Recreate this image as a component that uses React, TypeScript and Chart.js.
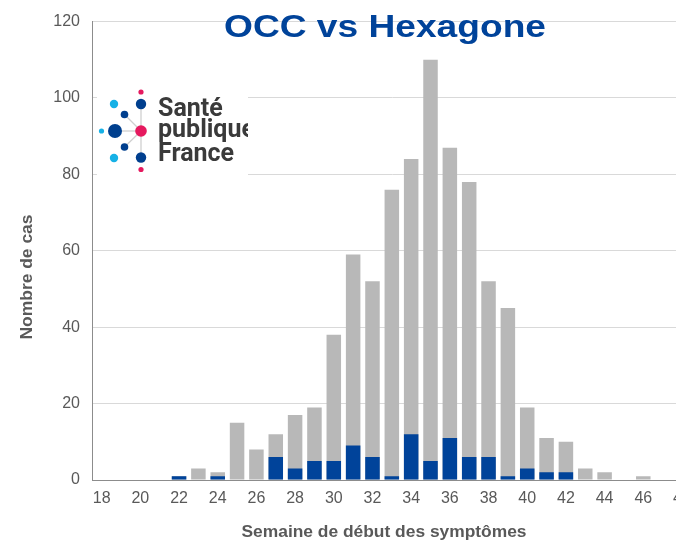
import React, { useEffect, useRef } from "react";
import { Chart, registerables } from "chart.js";

Chart.register(...registerables);

const weeks: string[] = [
  "18", "19", "20", "21", "22", "23", "24", "25", "26", "27", "28", "29", "30", "31", "32", "33",
  "34", "35", "36", "37", "38", "39", "40", "41", "42", "43", "44", "45", "46", "47", "48",
];

const hexagoneCases: number[] = [
  0, 0, 0, 0, 1, 3, 2, 15, 8, 12, 17, 19, 38, 59, 52, 76,
  84, 110, 87, 78, 52, 45, 19, 11, 10, 3, 2, 0, 1, 0, 0,
];

const occCases: number[] = [
  0, 0, 0, 0, 1, 0, 1, 0, 0, 6, 3, 5, 5, 9, 6, 1,
  12, 5, 11, 6, 6, 1, 3, 2, 2, 0, 0, 0, 0, 0, 0,
];

const yTicks: number[] = [0, 20, 40, 60, 80, 100, 120];

const chartTitle = "OCC vs Hexagone";
const xTitle = "Semaine de début des symptômes";
const yTitle = "Nombre de cas";
const logoLines: string[] = ["Santé", "publique", "France"];

const FONT = '"Liberation Sans", Arial, Helvetica, sans-serif';
const BLUE = "#00439a";
const GREY = "#b8b8b8";
const TEXT = "#595959";

function fitText(
  ctx: CanvasRenderingContext2D,
  text: string,
  x: number,
  y: number,
  font: string,
  targetWidth: number,
  color: string,
  rotate = 0
) {
  ctx.save();
  ctx.font = font;
  const w = ctx.measureText(text).width;
  const sx = targetWidth / w;
  ctx.translate(x, y);
  if (rotate) ctx.rotate(rotate);
  ctx.scale(sx, 1);
  ctx.fillStyle = color;
  ctx.textAlign = "center";
  ctx.textBaseline = "alphabetic";
  ctx.fillText(text, 0, 0);
  ctx.restore();
}

const overlayPlugin = {
  id: "overlay",
  afterDraw(chart: any) {
    const ctx: CanvasRenderingContext2D = chart.ctx;

    // Title
    fitText(ctx, chartTitle, 385, 37, `bold 31px ${FONT}`, 322, BLUE);

    // Axis titles
    fitText(ctx, xTitle, 384, 537, `bold 16px ${FONT}`, 285, TEXT);
    fitText(ctx, yTitle, 32, 277, `bold 16px ${FONT}`, 125, TEXT, -Math.PI / 2);

    // Logo
    ctx.save();
    ctx.fillStyle = "#ffffff";
    ctx.fillRect(97, 84, 151, 94);
    ctx.beginPath();
    ctx.rect(97, 84, 151, 94);
    ctx.clip();

    const cx = 141;
    const cy = 131;
    const dots: [number, number, number, string][] = [
      [141, 92, 2.6, "#e5195e"],
      [114, 104, 4.2, "#16b1e6"],
      [141, 104, 5.2, "#003f8e"],
      [124.5, 114.5, 3.8, "#003f8e"],
      [101.5, 131, 2.6, "#16b1e6"],
      [115, 131, 7, "#003f8e"],
      [124.5, 147, 3.8, "#003f8e"],
      [114, 158, 4.2, "#16b1e6"],
      [141, 157.5, 5.2, "#003f8e"],
      [141, 169.5, 2.6, "#e5195e"],
    ];
    ctx.strokeStyle = "#cfcfcf";
    ctx.lineWidth = 1.3;
    const linked = [2, 3, 5, 6, 8];
    linked.forEach((i) => {
      ctx.beginPath();
      ctx.moveTo(cx, cy);
      ctx.lineTo(dots[i][0], dots[i][1]);
      ctx.stroke();
    });
    dots.forEach(([x, y, r, c]) => {
      ctx.beginPath();
      ctx.arc(x, y, r, 0, Math.PI * 2);
      ctx.fillStyle = c;
      ctx.fill();
    });
    ctx.beginPath();
    ctx.arc(cx, cy, 5.8, 0, Math.PI * 2);
    ctx.fillStyle = "#e5195e";
    ctx.fill();

    ctx.fillStyle = "#3a3a3a";
    ctx.font = `bold 25px Roboto, "DejaVu Sans", sans-serif`;
    ctx.textAlign = "left";
    ctx.textBaseline = "alphabetic";
    ctx.fillText(logoLines[0], 158, 116);
    ctx.fillText(logoLines[1], 158, 137);
    ctx.fillText(logoLines[2], 158, 161);
    ctx.restore();
  },
};

export default function App() {
  const canvasRef = useRef<HTMLCanvasElement | null>(null);

  useEffect(() => {
    const canvas = canvasRef.current;
    if (!canvas) return;
    const chart = new Chart(canvas, {
      type: "bar",
      data: {
        labels: weeks,
        datasets: [
          {
            label: "OCC",
            data: occCases,
            backgroundColor: BLUE,
            grouped: false,
            order: 0,
            barPercentage: 0.75,
            categoryPercentage: 1,
          },
          {
            label: "Hexagone",
            data: hexagoneCases,
            backgroundColor: GREY,
            grouped: false,
            order: 1,
            barPercentage: 0.75,
            categoryPercentage: 1,
          },
        ],
      },
      options: {
        animation: false,
        responsive: false,
        maintainAspectRatio: false,
        devicePixelRatio: 1,
        layout: { padding: { top: 16, right: 8, left: 0, bottom: 0 } },
        plugins: {
          legend: { display: false },
          tooltip: { enabled: false },
          title: { display: false },
        },
        scales: {
          x: {
            grid: { display: false, drawTicks: false },
            border: { display: true, color: "#8c8c8c", width: 1 },
            ticks: {
              autoSkip: false,
              maxRotation: 0,
              minRotation: 0,
              padding: 9,
              color: TEXT,
              font: { family: FONT, size: 16 },
              callback: (_v: any, i: number) => (i % 2 === 0 ? weeks[i] : ""),
            },
            afterFit: (s: any) => {
              s.height = 62;
            },
          },
          y: {
            min: 0,
            max: 120,
            afterBuildTicks: (s: any) => {
              s.ticks = yTicks.map((v) => ({ value: v }));
            },
            grid: { color: "#d9d9d9", drawTicks: false, lineWidth: 1 },
            border: { display: true, color: "#8c8c8c", width: 1 },
            ticks: {
              padding: 12,
              color: TEXT,
              font: { family: FONT, size: 16 },
            },
            afterFit: (s: any) => {
              s.width = 92;
            },
          },
        },
      },
      plugins: [overlayPlugin],
    });
    return () => chart.destroy();
  }, []);

  return (
    <div
      style={{
        position: "fixed",
        left: 0,
        top: 0,
        width: 676,
        height: 542,
        overflow: "hidden",
        background: "#ffffff",
      }}
    >
      <canvas
        ref={canvasRef}
        width={700}
        height={542}
        style={{ width: 700, height: 542, display: "block" }}
      />
    </div>
  );
}
